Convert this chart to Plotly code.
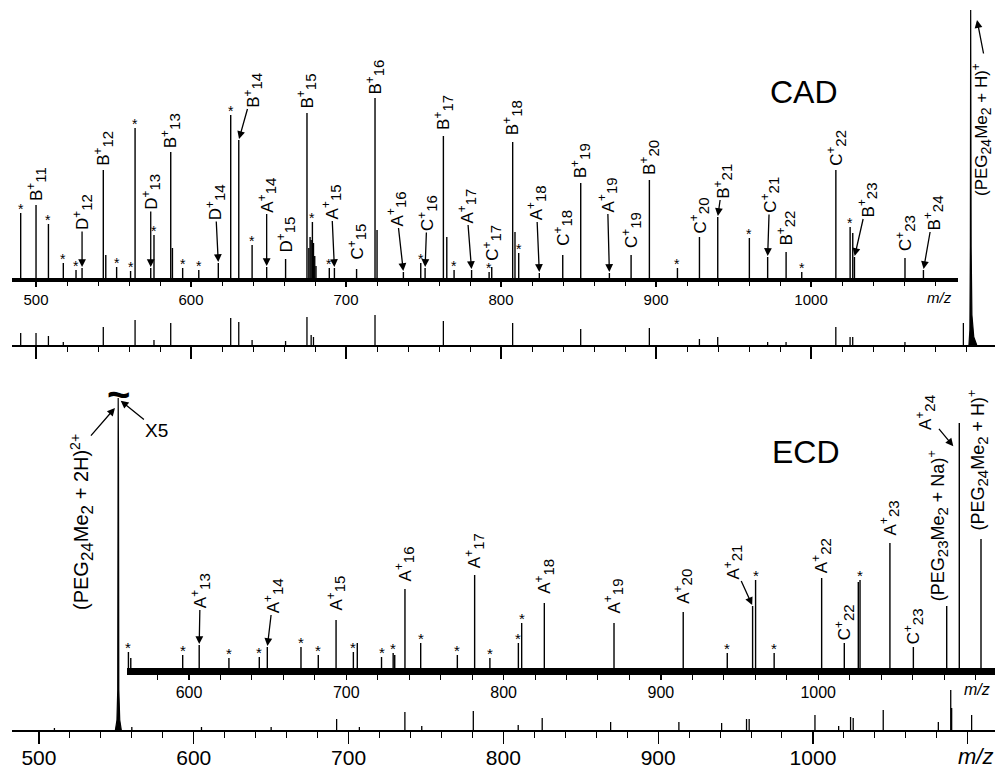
import plotly.graph_objects as go

W, H = 995, 769
FONT = "Liberation Sans, Arial, Helvetica, sans-serif"

# ======================= DATA =======================
# --- CAD, expanded intensity view (upper trace) ---
cad_zoom_mz = [490.1, 500.0, 508.0, 517.6, 525.8, 529.7, 543.4, 545.0, 552.0, 561.0,
               563.9, 574.0, 576.1, 586.9, 588.0, 594.6, 605.0, 617.6, 625.6, 630.8,
               639.4, 648.8, 661.0, 674.8, 676.0, 676.8, 677.5, 678.3, 679.0, 679.8,
               680.6, 689.2, 692.5, 706.8, 718.7, 720.0, 737.0, 748.2, 751.0, 762.8,
               765.0, 769.7, 781.0, 792.3, 794.0, 807.5, 809.0, 811.4, 824.7, 839.8,
               851.4, 869.9, 883.9, 895.7, 913.8, 928.0, 939.8, 960.2, 972.0, 983.9,
               994.0, 1016.0, 1025.2, 1026.9, 1028.0, 1060.6, 1072.5]
cad_zoom_int = [65, 73, 54, 15, 8, 10, 108, 23, 11, 7,
                150, 10, 43, 126, 30, 10, 8, 15, 163, 138,
                33, 11, 19, 165, 30, 41, 38, 56, 35, 22,
                12, 10, 10, 9, 180, 48, 6, 15, 10, 142,
                41, 8, 8, 6, 11, 136, 46, 25, 5, 23,
                95, 5, 23, 98, 10, 41, 61, 40, 21, 26,
                6, 108, 51, 45, 21, 20, 8]
cad_star_mz = [490.1, 508.0, 517.6, 525.8, 552.0, 561.0, 563.9, 576.1, 594.6, 605.0,
               625.6, 639.4, 678.3, 689.2, 748.2, 769.7, 792.3, 811.4, 913.8, 960.2,
               994.0, 1025.2]
cad_ion_mz = [500.0, 529.7, 543.4, 574.0, 586.9, 617.6, 630.8, 648.8, 661.0, 674.8,
              692.5, 706.8, 718.7, 737.0, 751.0, 762.8, 781.0, 794.0, 807.5, 824.7,
              839.8, 851.4, 869.9, 883.9, 895.7, 928.0, 939.8, 972.0, 983.9, 1016.0,
              1028.0, 1060.6, 1072.5]
cad_ion_type = ["B", "D", "B", "D", "B", "D", "B", "A", "D", "B",
                "A", "C", "B", "A", "C", "B", "A", "C", "B", "A",
                "C", "B", "A", "C", "B", "C", "B", "C", "B", "C",
                "B", "C", "B"]
cad_ion_n = [11, 12, 12, 13, 13, 14, 14, 14, 15, 15,
             15, 15, 16, 16, 16, 17, 17, 17, 18, 18,
             18, 19, 19, 19, 20, 20, 21, 21, 22, 22,
             23, 23, 24]

# --- CAD, full scale (lower trace) ---
cad_full_mz = [490.1, 500.0, 508.0, 517.6, 543.4, 563.9, 576.1, 586.9, 625.6, 630.8,
               639.4, 661.0, 674.8, 677.5, 679.0, 718.7, 762.8, 807.5, 851.4, 895.7,
               928.0, 939.8, 972.0, 983.9, 1016.0, 1025.2, 1026.9, 1060.6, 1098.3]
cad_full_int = [12, 12, 9, 3, 18, 25, 5, 22, 27, 23,
                5, 4, 28, 10, 8, 30, 24, 22, 16, 17,
                6, 8, 3, 3, 18, 8, 8, 3, 22]
cad_parent_mz = [1101.9, 1102.5, 1102.8, 1103.0, 1103.3, 1103.8, 1105.0, 1106.9]
cad_parent_int = [0, 15, 98, 335, 98, 30, 8, 0]

# --- ECD, expanded intensity view (inset) ---
ecd_zoom_mz = [561.5, 563.0, 596.0, 606.5, 625.4, 644.7, 649.8, 671.2, 682.2, 693.5,
               704.5, 707.0, 722.4, 729.8, 730.8, 737.3, 747.3, 770.6, 781.6, 791.3,
               809.4, 811.5, 825.9, 870.2, 914.2, 942.2, 958.3, 960.2, 972.0, 1002.2,
               1016.6, 1025.5, 1026.6, 1045.6, 1060.5, 1081.7, 1089.7, 1103.5]
ecd_zoom_int = [16, 10, 13, 23, 10, 11, 21, 21, 13, 48,
                16, 25, 11, 15, 13, 79, 25, 13, 93, 10,
                25, 45, 65, 45, 56, 15, 62, 88, 15, 90,
                25, 86, 88, 125, 21, 62, 245, 129]
ecd_star_mz = [561.5, 596.0, 625.4, 644.7, 671.2, 682.2, 704.5, 722.4, 729.8, 747.3,
               770.6, 791.3, 809.4, 811.5, 942.2, 960.2, 972.0, 1026.6]
ecd_ion_mz = [606.5, 649.8, 693.5, 737.3, 781.6, 825.9, 870.2, 914.2, 958.3, 1002.2,
              1016.6, 1045.6, 1060.5, 1081.7, 1089.7, 1103.5]
ecd_ion_type = ["A", "A", "A", "A", "A", "A", "A", "A", "A", "A",
                "C", "A", "C", "PEG23Na", "A", "PEG24H"]
ecd_ion_n = [13, 14, 15, 16, 17, 18, 19, 20, 21, 22,
             22, 23, 23, 0, 24, 0]

# --- ECD, full scale (lower trace) ---
ecd_full_mz = [510.0, 560.0, 605.0, 650.0, 692.3, 707.0, 736.4, 747.3, 780.6, 809.6,
               825.1, 869.3, 913.4, 941.0, 957.1, 958.8, 1001.3, 1016.6, 1024.3, 1026.0,
               1045.4, 1081.0, 1089.0, 1089.6, 1102.5]
ecd_full_int = [2, 3, 3, 3, 11, 3, 18, 4, 19, 5,
                12, 8, 8, 7, 11, 11, 15, 4, 13, 12,
                20, 8, 40, 22, 15]
ecd_dication_mz = [549.4, 550.4, 550.9, 551.1, 551.2, 551.4, 551.6, 552.2, 553.2]
ecd_dication_int = [0, 10, 40, 273, 332, 273, 40, 10, 0]

tick_major = [500, 600, 700, 800, 900, 1000, 1100]
tick_text = ["500", "600", "700", "800", "900", "1000", ""]

assert len(cad_zoom_mz) == len(cad_zoom_int)
assert len(ecd_zoom_mz) == len(ecd_zoom_int)
assert len(cad_full_mz) == len(cad_full_int)
assert len(ecd_full_mz) == len(ecd_full_int)

# ======================= LAYOUT / STYLE =======================
cad_arrow = {529.7: (0, -56), 574.0: (0, -76), 617.6: (-3, -61), 630.8: (14, -50),
             648.8: (0, -72), 692.5: (-3, -66), 737.0: (-7, -63), 751.0: (2, -55),
             781.0: (-5, -64), 824.7: (-3, -70), 869.9: (-2, -78), 939.8: (5, -36),
             972.0: (2, -62), 1028.0: (13, -57), 1072.5: (10, -57)}
cad_gap = {500.0: 2, 543.4: 2, 586.9: 2, 661.0: 4, 674.8: 3, 706.8: 7, 718.7: 1,
           762.8: 4, 794.0: 4, 807.5: 5, 839.8: 7, 851.4: 3, 883.9: 5, 895.7: 3,
           928.0: 2, 983.9: 4, 1016.0: 2, 1060.6: 5}
ecd_arrow = {606.5: (1, -54), 649.8: (6, -51), 958.3: (-20, -44)}
ecd_gap = {693.5: 7, 737.3: 6, 781.6: 5, 825.9: 7, 870.2: 7, 914.2: 6, 1002.2: 3,
           1016.6: 1, 1045.6: 6, 1060.5: 1, 1081.7: 3, 1103.5: 6}
ecd_xshift = {1081.7: -9, 1103.5: -3}

SUB = 'font-size:{}px'


def sub(t, size):
    return f'<sub><span style="{SUB.format(size)}">{t}</span></sub>'


def ion_html(letter, n):
    return f"{letter}<sup>+</sup>{sub(n, 15)}"


def molecule_html(peg, adduct, charge, size=15):
    return (f"(PEG{sub(peg, size)}Me{sub(2, size)} + {adduct})"
            f"<sup>{charge}</sup>")


def px2x(px):
    return px / W


def py2y(py):
    return 1 - py / H


def sticks(mz, inten):
    xs, ys = [], []
    for m, h in zip(mz, inten):
        xs += [m, m, None]
        ys += [0, h, None]
    return xs, ys


fig = go.Figure()

for (mz, it, xa, ya, w) in [
    (cad_full_mz, cad_full_int, "x2", "y2", 1.3),
    (cad_zoom_mz, cad_zoom_int, "x", "y", 1.4),
    (ecd_full_mz, ecd_full_int, "x3", "y3", 1.3),
    (ecd_zoom_mz, ecd_zoom_int, "x4", "y4", 1.4),
]:
    xs, ys = sticks(mz, it)
    fig.add_trace(go.Scatter(x=xs, y=ys, mode="lines", xaxis=xa, yaxis=ya,
                             line=dict(color="black", width=w), hoverinfo="skip",
                             showlegend=False))

for (mz, it, xa, ya) in [(cad_parent_mz, cad_parent_int, "x2", "y2"),
                         (ecd_dication_mz, ecd_dication_int, "x3", "y3")]:
    fig.add_trace(go.Scatter(x=mz, y=it, mode="lines", xaxis=xa, yaxis=ya, fill="tozeroy",
                             fillcolor="black", line=dict(color="black", width=1.2),
                             hoverinfo="skip", showlegend=False))


def font(size):
    return dict(family=FONT, size=size, color="black")


def add_text(px, py, text, size, angle=0):
    fig.add_annotation(x=px2x(px), y=py2y(py), xref="paper", yref="paper", text=text,
                       textangle=angle, showarrow=False, xanchor="center",
                       yanchor="middle", font=font(size))


def add_star(xr, yr, m, h, size):
    fig.add_annotation(x=m, y=h, xref=xr, yref=yr, text="*", showarrow=False,
                       xanchor="center", yanchor="bottom", yshift=-6, font=font(size))


def add_ion(xr, yr, m, h, text, arrow=None, gap=2, size=17, xshift=0):
    common = dict(x=m, y=h, xref=xr, yref=yr, text=text, textangle=-90, font=font(size))
    if arrow is not None:
        fig.add_annotation(**common, showarrow=True, ax=arrow[0], ay=arrow[1],
                           arrowhead=2, arrowsize=1.2, arrowwidth=1.3,
                           arrowcolor="black", standoff=1)
    else:
        fig.add_annotation(**common, showarrow=False, xanchor="center",
                           yanchor="bottom", yshift=gap, xshift=xshift)


def add_arrow(xr, yr, m, h, ax, ay):
    fig.add_annotation(x=m, y=h, xref=xr, yref=yr, text=" ", font=font(2),
                       showarrow=True, ax=ax, ay=ay, arrowhead=2, arrowsize=1.2,
                       arrowwidth=1.3, arrowcolor="black", standoff=0)


cad_h = dict(zip(cad_zoom_mz, cad_zoom_int))
ecd_h = dict(zip(ecd_zoom_mz, ecd_zoom_int))

for m in cad_star_mz:
    add_star("x", "y", m, cad_h[m], 14)
for m, t, n in zip(cad_ion_mz, cad_ion_type, cad_ion_n):
    add_ion("x", "y", m, cad_h[m], ion_html(t, n), arrow=cad_arrow.get(m),
            gap=cad_gap.get(m, 2))

for m in ecd_star_mz:
    add_star("x4", "y4", m, ecd_h[m], 15)
for m, t, n in zip(ecd_ion_mz, ecd_ion_type, ecd_ion_n):
    if t == "PEG23Na":
        txt, size = molecule_html(23, "Na", "+"), 18
    elif t == "PEG24H":
        txt, size = molecule_html(24, "H", "+"), 18
    else:
        txt, size = ion_html(t, n), 17
    if m == 1089.7:
        add_ion("x4", "y4", 1086.3, 221, txt, arrow=(-29, -35))
        continue
    add_ion("x4", "y4", m, ecd_h[m], txt, arrow=ecd_arrow.get(m), gap=ecd_gap.get(m, 2),
            size=size, xshift=ecd_xshift.get(m, 0))

# CAD parent ion label + arrow (kept just inside the right edge)
add_text(981, 130, molecule_html(24, "H", "+", 14), 17, -90)
add_arrow("x2", "y2", 1107.1, 325, 7, 36)

# ECD dication label + arrow, X5, break mark
add_text(82, 522, molecule_html(24, "2H", "2+", 17), 20, -90)
add_arrow("x3", "y3", 549.1, 322, -26, 30)
fig.add_annotation(x=552.3, y=330, xref="x3", yref="y3", text="X5", showarrow=True,
                   ax=37, ay=30, arrowhead=2, arrowsize=1.2, arrowwidth=1.3,
                   arrowcolor="black", standoff=1, font=font(19))
fig.add_annotation(x=551.2, y=334, xref="x3", yref="y3", text="<b>~</b>", showarrow=False,
                   xanchor="center", yanchor="middle", yshift=2, font=font(40))

# panel titles and m/z labels
add_text(804, 92, "CAD", 32)
add_text(806, 452, "ECD", 32)
add_text(939, 297, "<i>m/z</i>", 15)
add_text(977, 689, "<i>m/z</i>", 16)
add_text(975, 756, "<i>m/z</i>", 22)


def xaxis(anchor, domain, rng, ticklen, minorlen, labels, fsize, lw, standoff=0):
    return dict(anchor=anchor, domain=domain, range=rng, showline=True, linecolor="black",
                linewidth=lw, tickmode="array", tickvals=tick_major, ticktext=tick_text,
                ticks="outside", ticklen=ticklen, tickwidth=1.3, tickcolor="black",
                minor=dict(tickmode="linear", tick0=500, dtick=20, ticks="outside",
                           ticklen=minorlen, tickwidth=1, tickcolor="black", showgrid=False),
                showticklabels=labels, tickfont=font(fsize), showgrid=False,
                ticklabelstandoff=standoff, zeroline=False, fixedrange=True,
                automargin=False)


def yaxis(anchor, domain, rng):
    return dict(anchor=anchor, domain=domain, range=rng, visible=False, fixedrange=True,
                showgrid=False, zeroline=False, automargin=False)


fig.update_layout(
    width=W, height=H, margin=dict(l=0, r=0, t=0, b=0, pad=0, autoexpand=False),
    paper_bgcolor="white", plot_bgcolor="rgba(0,0,0,0)", showlegend=False,
    xaxis=xaxis("y", [px2x(12), px2x(958)], [484.5, 1094.8], 5, 4, True, 15, 4),
    yaxis=yaxis("x", [py2y(278), 1], [0, 278]),
    xaxis2=xaxis("y2", [px2x(12), 1], [484.5, 1118.7], 12, 5, False, 15, 2),
    yaxis2=yaxis("x2", [py2y(345), 1], [0, 345]),
    xaxis3=xaxis("y3", [px2x(12), 1], [482.6, 1117.6], 12, 6, True, 21, 2, -4),
    yaxis3=yaxis("x3", [py2y(730), py2y(380)], [0, 350]),
    xaxis4=xaxis("y4", [px2x(127), 1], [560.6, 1112.4], 5, 5, True, 16, 7, -1),
    yaxis4=yaxis("x4", [py2y(668), py2y(380)], [0, 288]),
)

fig.write_html("out.html",
               config={"displayModeBar": False, "staticPlot": True},
               post_script="document.body.style.margin='0';"
                           "document.body.style.overflow='hidden';")
